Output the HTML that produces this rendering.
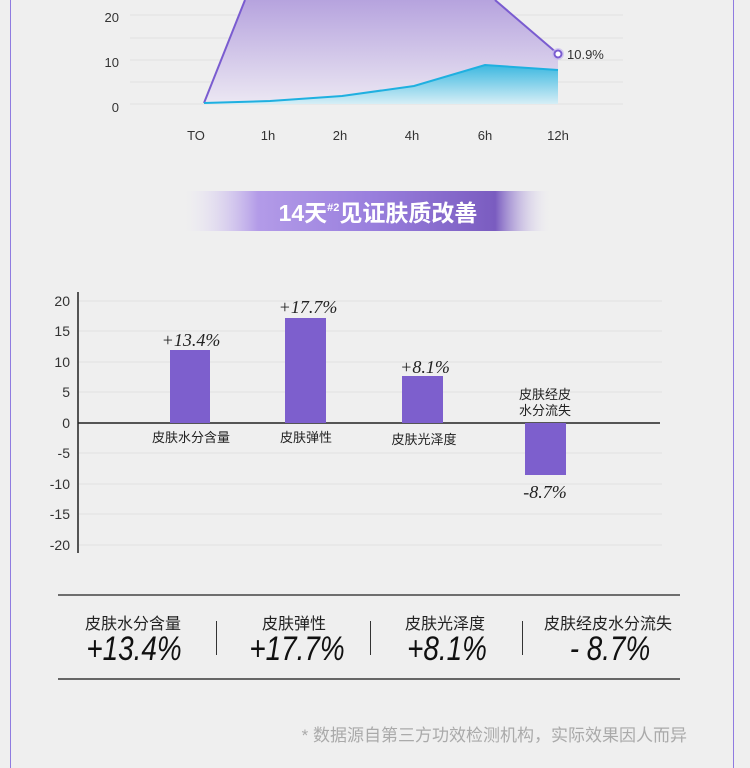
<!DOCTYPE html>
<html><head><meta charset="utf-8"><style>
body{margin:0;width:750px;height:768px;background:#efefef;position:relative;overflow:hidden;font-family:"Liberation Sans","Noto Sans CJK SC",sans-serif;}
.a{position:absolute;}
.lab{font-size:16px;color:#222;text-align:center;width:154px;}
.num{font-size:34px;color:#111;text-align:center;width:154px;font-family:"Liberation Sans",sans-serif;font-style:italic;transform:scaleX(0.82);}
</style></head><body>
<div class="a" style="left:10px;top:0;width:1px;height:768px;background:#8f7be0"></div>
<div class="a" style="left:733px;top:0;width:1px;height:768px;background:#8f7be0"></div>

<svg class="a" style="left:0;top:0" width="750" height="600">
<defs>
<linearGradient id="pg" x1="0" y1="0" x2="0" y2="1"><stop offset="0" stop-color="#b6a3de"/><stop offset="1" stop-color="#ece8f3"/></linearGradient>
<linearGradient id="bg" x1="0" y1="0" x2="0" y2="1"><stop offset="0" stop-color="#3cb8e0"/><stop offset="1" stop-color="#d6eef6"/></linearGradient>
<linearGradient id="ban" x1="0" y1="0" x2="1" y2="0"><stop offset="0" stop-color="#e6e0f5" stop-opacity="0"/><stop offset="0.2" stop-color="#b39be8"/><stop offset="0.5" stop-color="#9a80de"/><stop offset="0.85" stop-color="#7a5cc0"/><stop offset="1" stop-color="#e6e0f5" stop-opacity="0"/></linearGradient>
</defs>
<g stroke="#e2e2e2" stroke-width="1">
<line x1="130" y1="15" x2="623" y2="15"/><line x1="130" y1="38" x2="623" y2="38"/><line x1="130" y1="60" x2="623" y2="60"/><line x1="130" y1="82" x2="623" y2="82"/><line x1="130" y1="104" x2="623" y2="104"/>
</g>
<polygon points="204,103 245,0 495,0 558,54 558,104 204,104" fill="url(#pg)"/>
<polyline points="204,103 245,0" fill="none" stroke="#7a5cd0" stroke-width="2"/>
<polyline points="495,0 558,54" fill="none" stroke="#7a5cd0" stroke-width="2"/>
<polygon points="204,103 270,101 342,96 414,86 485,65 558,70 558,104 204,104" fill="url(#bg)"/>
<polyline points="204,103 270,101 342,96 414,86 485,65 558,70" fill="none" stroke="#1fb0e0" stroke-width="2"/>
<circle cx="558" cy="54" r="6" fill="#c9bbef" opacity="0.7"/><circle cx="558" cy="54" r="3.5" fill="#fff" stroke="#7a5cd0" stroke-width="2"/>
<g font-size="13" fill="#333" font-family="Liberation Sans,sans-serif">
<text x="567" y="59">10.9%</text>
<text x="119" y="22" text-anchor="end">20</text><text x="119" y="67" text-anchor="end">10</text><text x="119" y="112" text-anchor="end">0</text>
<text x="196" y="140" text-anchor="middle">TO</text><text x="268" y="140" text-anchor="middle">1h</text><text x="340" y="140" text-anchor="middle">2h</text><text x="412" y="140" text-anchor="middle">4h</text><text x="485" y="140" text-anchor="middle">6h</text><text x="558" y="140" text-anchor="middle">12h</text>
</g>
<rect x="185" y="191" width="365" height="40" fill="url(#ban)"/>
<text x="378" y="221" text-anchor="middle" font-size="23" font-weight="bold" fill="#fff" font-family="Liberation Sans,Noto Sans CJK SC,sans-serif">14天<tspan font-size="11" dy="-10">#2</tspan><tspan dy="10">见证肤质改善</tspan></text>

<g stroke="#e0e0e0"><line x1="78" y1="301" x2="662" y2="301"/><line x1="78" y1="331" x2="662" y2="331"/><line x1="78" y1="362" x2="662" y2="362"/><line x1="78" y1="392" x2="662" y2="392"/><line x1="78" y1="453" x2="662" y2="453"/><line x1="78" y1="484" x2="662" y2="484"/><line x1="78" y1="514" x2="662" y2="514"/><line x1="78" y1="545" x2="662" y2="545"/></g>
<line x1="78" y1="292" x2="78" y2="553" stroke="#555" stroke-width="2"/>
<line x1="78" y1="423" x2="660" y2="423" stroke="#222" stroke-width="1.5"/>
<g fill="#7d5fcd"><rect x="170" y="350" width="40" height="73"/><rect x="285" y="318" width="41" height="105"/><rect x="402" y="376" width="41" height="47"/><rect x="525" y="423" width="41" height="52"/></g>
<g font-size="14" fill="#333" text-anchor="end" font-family="Liberation Sans,sans-serif">
<text x="70" y="306">20</text><text x="70" y="336">15</text><text x="70" y="367">10</text><text x="70" y="397">5</text><text x="70" y="428">0</text><text x="70" y="458">-5</text><text x="70" y="489">-10</text><text x="70" y="519">-15</text><text x="70" y="550">-20</text>
</g>
<g font-size="18" fill="#222" font-style="italic" font-family="Liberation Serif,serif" text-anchor="middle">
<text x="191" y="346">+13.4%</text><text x="308" y="313">+17.7%</text><text x="425" y="373">+8.1%</text><text x="545" y="498">-8.7%</text>
</g>
<g font-size="13" fill="#222" text-anchor="middle" font-family="Liberation Sans,Noto Sans CJK SC,sans-serif">
<text x="191" y="442">皮肤水分含量</text><text x="306" y="442">皮肤弹性</text><text x="424" y="444">皮肤光泽度</text><text x="545" y="399">皮肤经皮</text><text x="545" y="415">水分流失</text>
</g>
<line x1="58" y1="595" x2="680" y2="595" stroke="#222" stroke-width="1.2"/>
</svg>
<div class="a" style="left:58px;top:678px;width:622px;height:2px;background:#666"></div>
<div class="a" style="left:216px;top:621px;width:1px;height:34px;background:#333"></div>
<div class="a" style="left:370px;top:621px;width:1px;height:34px;background:#333"></div>
<div class="a" style="left:522px;top:621px;width:1px;height:34px;background:#333"></div>
<div class="a lab" style="left:56px;top:610px">皮肤水分含量</div>
<div class="a lab" style="left:217px;top:610px">皮肤弹性</div>
<div class="a lab" style="left:368px;top:610px">皮肤光泽度</div>
<div class="a lab" style="left:528px;top:610px;width:160px">皮肤经皮水分流失</div>
<div class="a num" style="left:57px;top:630px">+13.4%</div>
<div class="a num" style="left:220px;top:630px">+17.7%</div>
<div class="a num" style="left:370px;top:630px">+8.1%</div>
<div class="a num" style="left:533px;top:630px">- 8.7%</div>
<div class="a" style="left:260px;top:721px;width:427px;text-align:right;font-size:17px;color:#aaa">* 数据源自第三方功效检测机构，实际效果因人而异</div>
</body></html>
